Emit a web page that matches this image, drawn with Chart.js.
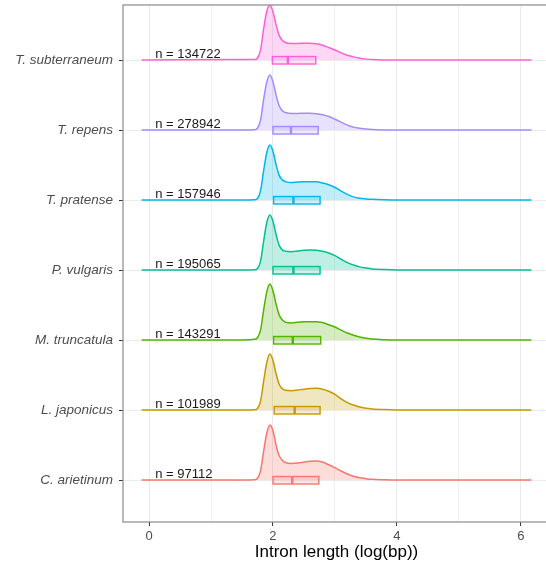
<!DOCTYPE html>
<html>
<head>
<meta charset="utf-8">
<script src="https://cdn.jsdelivr.net/npm/chart.js@4.4.0/dist/chart.umd.min.js"></script>
<style>
  html, body { margin: 0; padding: 0; background: #fff; overflow: hidden; }
</style>
</head>
<body>
<canvas id="ridges" width="552" height="569"></canvas>
<script>
// species, bottom ridge first
const species = ['C. arietinum', 'L. japonicus', 'M. truncatula', 'P. vulgaris',
                 'T. pratense', 'T. repens', 'T. subterraneum'];
const colors = ['#F8766D', '#C49A00', '#53B400', '#00C094', '#00B6EB', '#A58AFF', '#FB61D7'];
const counts = [97112, 101989, 143291, 195065, 157946, 278942, 134722];

// box plot stats, log10(bp)
const q1 = [2.00, 2.02, 2.01, 2.00, 2.01, 2.00, 1.99];
const medians = [2.31, 2.35, 2.32, 2.33, 2.33, 2.29, 2.24];
const q3 = [2.74, 2.76, 2.77, 2.76, 2.76, 2.73, 2.69];

// density estimates sampled on the same log10 grid
const gridX = [-0.12, 1.5, 1.7, 1.75, 1.8, 1.85, 1.9, 1.95, 2.0, 2.05, 2.1, 2.15, 2.2, 2.3, 2.4,
               2.5, 2.6, 2.7, 2.8, 2.9, 3.0, 3.1, 3.2, 3.3, 3.4, 3.5, 3.6, 3.8, 4.0, 6.17];
const densArietinum = [0, 0, 0.01, 0.08, 0.42, 1.30, 2.10, 2.46, 2.20, 1.55, 1.08, 0.88, 0.78, 0.74, 0.76,
                       0.80, 0.84, 0.85, 0.80, 0.68, 0.55, 0.40, 0.27, 0.17, 0.10, 0.06, 0.03, 0.01, 0, 0];
const densJaponicus = [0, 0, 0.01, 0.07, 0.40, 1.30, 2.12, 2.50, 2.22, 1.62, 1.15, 0.95, 0.88, 0.86, 0.89,
                       0.93, 0.96, 0.97, 0.93, 0.84, 0.70, 0.50, 0.33, 0.22, 0.13, 0.08, 0.05, 0.02, 0.005, 0];
const densTruncatula = [0, 0.005, 0.03, 0.10, 0.45, 1.35, 2.15, 2.50, 2.20, 1.60, 1.12, 0.90, 0.80, 0.76, 0.79,
                        0.81, 0.82, 0.82, 0.78, 0.68, 0.58, 0.44, 0.31, 0.21, 0.13, 0.08, 0.04, 0.01, 0, 0];
const densVulgaris = [0, 0, 0.01, 0.07, 0.40, 1.30, 2.12, 2.46, 2.18, 1.58, 1.10, 0.90, 0.84, 0.82, 0.85,
                      0.88, 0.89, 0.88, 0.84, 0.76, 0.64, 0.48, 0.33, 0.22, 0.14, 0.09, 0.05, 0.02, 0.005, 0];
const densPratense = [0, 0, 0.01, 0.07, 0.42, 1.32, 2.12, 2.46, 2.18, 1.58, 1.10, 0.90, 0.82, 0.78, 0.80,
                      0.81, 0.81, 0.81, 0.76, 0.68, 0.56, 0.40, 0.25, 0.14, 0.08, 0.05, 0.03, 0.01, 0, 0];
const densRepens = [0, 0, 0.01, 0.08, 0.45, 1.38, 2.15, 2.46, 2.16, 1.56, 1.08, 0.86, 0.78, 0.74, 0.74,
                    0.75, 0.75, 0.73, 0.68, 0.60, 0.48, 0.35, 0.22, 0.13, 0.08, 0.04, 0.02, 0.005, 0, 0];
const densSubterraneum = [0, 0.02, 0.02, 0.09, 0.45, 1.40, 2.18, 2.46, 2.16, 1.58, 1.10, 0.88, 0.78, 0.74, 0.74,
                          0.75, 0.75, 0.73, 0.66, 0.56, 0.45, 0.32, 0.21, 0.14, 0.08, 0.04, 0.02, 0.005, 0, 0];
const densities = [densArietinum, densJaponicus, densTruncatula, densVulgaris,
                   densPratense, densRepens, densSubterraneum];

const RIDGE_SCALE = 0.32;   // density -> ridge height (1 = row spacing)
const LABEL_X = 0.1;        // where the "n = ..." text starts

Chart.defaults.font.family = "'Liberation Sans', Arial, sans-serif";

function withAlpha(hex, a) {
  const n = parseInt(hex.slice(1), 16);
  return `rgba(${n >> 16}, ${(n >> 8) & 255}, ${n & 255}, ${a})`;
}

const datasets = species.map((name, i) => ({
  label: name,
  data: gridX.map((x, k) => ({ x: x, y: i + densities[i][k] * RIDGE_SCALE })),
  borderColor: colors[i],
  backgroundColor: withAlpha(colors[i], 0.25),
  borderWidth: 1.5,
  pointRadius: 0,
  cubicInterpolationMode: 'monotone',
  fill: { value: i }
}));

// boxes, n labels and panel border
const ridgeExtras = {
  id: 'ridgeExtras',
  afterDatasetsDraw(chart) {
    const { ctx, chartArea: a, scales: { x, y } } = chart;
    ctx.save();
    species.forEach((name, i) => {
      const yc = y.getPixelForValue(i);
      const x1 = x.getPixelForValue(q1[i]);
      const x3 = x.getPixelForValue(q3[i]);
      const xm = x.getPixelForValue(medians[i]);
      ctx.fillStyle = withAlpha(colors[i], 0.2);
      ctx.fillRect(x1, yc - 3.5, x3 - x1, 7.5);
      ctx.strokeStyle = colors[i];
      ctx.lineWidth = 1.4;
      ctx.strokeRect(x1, yc - 3.5, x3 - x1, 7.5);
      ctx.lineWidth = 2.4;
      ctx.beginPath();
      ctx.moveTo(xm, yc - 3.5);
      ctx.lineTo(xm, yc + 4);
      ctx.stroke();

      ctx.fillStyle = '#1a1a1a';
      ctx.font = "13px 'Liberation Sans', Arial, sans-serif";
      ctx.textBaseline = 'alphabetic';
      ctx.textAlign = 'left';
      ctx.fillText('n = ' + counts[i], x.getPixelForValue(LABEL_X), yc - 2.5);
    });
    ctx.strokeStyle = '#8a8a8a';
    ctx.lineWidth = 1.2;
    ctx.strokeRect(a.left, a.top, a.right - a.left, a.bottom - a.top);
    ctx.restore();
  }
};

new Chart(document.getElementById('ridges'), {
  type: 'line',
  data: { datasets: datasets },
  plugins: [ridgeExtras],
  options: {
    responsive: false,
    animation: false,
    layout: { padding: { top: 5, right: 2, left: 0, bottom: 0 } },
    plugins: {
      legend: { display: false },
      tooltip: { enabled: false }
    },
    scales: {
      x: {
        type: 'linear',
        min: -0.42,
        max: 6.47,
        afterFit: s => {
          s.height = 47;
          s.paddingLeft = 0;
          s.paddingRight = 0;
        },
        afterBuildTicks: s => { s.ticks = [0, 1, 2, 3, 4, 5, 6].map(v => ({ value: v })); },
        ticks: {
          color: '#4d4d4d',
          font: { size: 13 },
          padding: 3,
          maxRotation: 0,
          callback: v => (v % 2 === 0 ? String(v) : '')
        },
        grid: {
          color: '#ebebeb',
          lineWidth: c => (c.tick && c.tick.value % 2 ? 0.7 : 1),
          tickColor: c => (c.tick && c.tick.value % 2 ? 'rgba(0,0,0,0)' : '#333333'),
          tickLength: 4
        },
        border: { display: false },
        title: {
          display: true,
          text: 'Intron length (log(bp))',
          color: '#000000',
          font: { size: 17 },
          padding: { top: 2, bottom: 6 }
        }
      },
      y: {
        type: 'linear',
        min: -0.6,
        max: 6.786,
        afterFit: s => {
          s.width = 123;
          s.paddingTop = 0;
          s.paddingBottom = 0;
        },
        afterBuildTicks: s => { s.ticks = species.map((n, i) => ({ value: i })); },
        ticks: {
          color: '#4d4d4d',
          font: { size: 13.5, style: 'italic' },
          padding: 6,
          callback: v => species[v]
        },
        grid: {
          color: '#ebebeb',
          tickColor: '#333333',
          tickLength: 4
        },
        border: { display: false }
      }
    }
  }
});
</script>
</body>
</html>
